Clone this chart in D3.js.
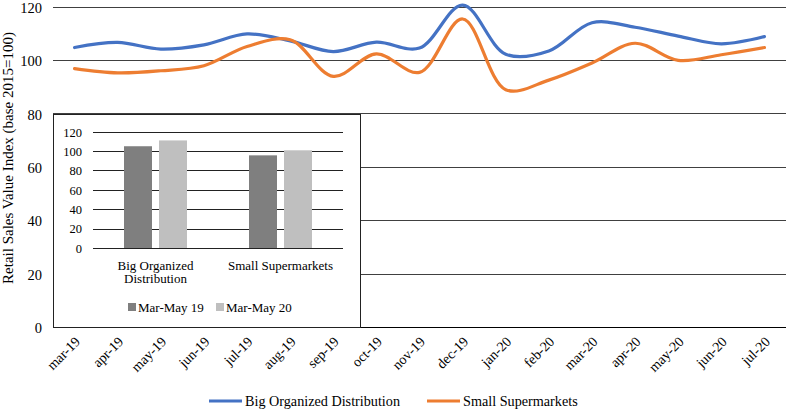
<!DOCTYPE html>
<html><head><meta charset="utf-8">
<script src="https://cdn.jsdelivr.net/npm/d3@7"></script>
<style>body{margin:0;background:#fff}</style>
</head><body><svg id="c" width="788" height="411"></svg>
<script>
const months = ["mar-19","apr-19","may-19","jun-19","jul-19","aug-19","sep-19","oct-19","nov-19","dec-19","jan-20","feb-20","mar-20","apr-20","may-20","jun-20","jul-20"];
const bigOrg = [104.7,106.6,104.1,105.7,109.8,107.2,103.2,106.7,104.5,120.6,102.2,103.4,114.0,112.3,109.0,106.1,108.8];
const smallSup = [96.8,95.2,96.0,97.9,105.1,107.6,93.9,102.3,95.4,115.4,88.9,92.5,98.9,106.3,99.9,102.0,104.7];
const mainTicks = [0,20,40,60,80,100,120];
const seriesNames = ["Big Organized Distribution","Small Supermarkets"];
const seriesColors = ["#4472C4","#ED7D31"];

const insetCats = [["Big Organized","Distribution"],["Small Supermarkets"]];
const insetPeriods = ["Mar-May 19","Mar-May 20"];
const insetMarMay19 = [105,95.6];
const insetMarMay20 = [111,100.8];
const insetTicks = [0,20,40,60,80,100,120];
const insetColors = ["#7f7f7f","#bfbfbf"];

const FONT = "Liberation Serif";
const svg = d3.select("#c");
const L=53, R=786, T=6.7, B=327;
const x = d3.scaleBand().domain(months).range([L,R]);
const y = d3.scaleLinear().domain([0,120]).range([B,T]);

svg.append("g").selectAll("line").data(mainTicks.filter(d=>d>0)).join("line")
  .attr("x1",L).attr("x2",R).attr("y1",d=>Math.round(y(d))+0.5).attr("y2",d=>Math.round(y(d))+0.5)
  .attr("stroke","#404040").attr("stroke-width",1);
svg.append("line").attr("x1",L).attr("x2",R).attr("y1",Math.round(B)+0.5).attr("y2",Math.round(B)+0.5).attr("stroke","#000");

svg.append("g").selectAll("text").data(mainTicks).join("text")
  .attr("font-family",FONT)
  .attr("x",42).attr("y",d=>y(d)+1).attr("dy","0.35em").attr("text-anchor","end")
  .attr("font-size",14.5).text(d=>d);

svg.append("text").attr("font-family",FONT).attr("transform",`translate(13,${158}) rotate(-90)`).attr("text-anchor","middle")
  .attr("font-size",15).text("Retail Sales Value Index (base 2015=100)");

svg.append("g").selectAll("text").data(months).join("text")
  .attr("font-family",FONT)
  .attr("transform",d=>`translate(${x(d)+x.bandwidth()/2+3},${339}) rotate(-45)`)
  .attr("text-anchor","end").attr("dy","0.35em").attr("font-size",14).text(d=>d);

const line = d3.line().x((d,i)=>x(months[i])+x.bandwidth()/2).y(d=>y(d)).curve(d3.curveCatmullRom.alpha(0.5));
[bigOrg,smallSup].forEach((s,k)=>{
  svg.append("path").attr("d",line(s)).attr("fill","none").attr("stroke",seriesColors[k])
    .attr("stroke-width",3.2).attr("stroke-linecap","round");
});

const legX=[209,427];
seriesNames.forEach((n,k)=>{
  svg.append("line").attr("x1",legX[k]).attr("x2",legX[k]+33).attr("y1",401).attr("y2",401)
    .attr("stroke",seriesColors[k]).attr("stroke-width",3.2);
  svg.append("text").attr("font-family",FONT).attr("x",legX[k]+36).attr("y",401).attr("dy","0.35em").attr("font-size",14.2).text(n);
});

const ig = svg.append("g");
ig.append("rect").attr("x",53.5).attr("y",114.5).attr("width",307).attr("height",213).attr("fill","#fff").attr("stroke","#222").attr("stroke-width",1);
const cats = insetCats.map(d=>d.join(" "));
const ix = d3.scaleBand().domain(cats).range([93,343]);
const iy = d3.scaleLinear().domain([0,120]).range([248,131.7]);
ig.append("g").selectAll("line").data(insetTicks).join("line")
  .attr("x1",93).attr("x2",343).attr("y1",d=>Math.round(iy(d))+0.5).attr("y2",d=>Math.round(iy(d))+0.5)
  .attr("stroke","#222");
ig.append("g").selectAll("text").data(insetTicks).join("text")
  .attr("font-family",FONT)
  .attr("x",82).attr("y",d=>iy(d)+0.5).attr("dy","0.35em").attr("text-anchor","end").attr("font-size",12.5).text(d=>d);
const bw=28, gap=7;
[insetMarMay19,insetMarMay20].forEach((vals,k)=>{
  ig.append("g").selectAll("rect").data(vals).join("rect")
    .attr("x",(d,i)=>ix(cats[i])+ix.bandwidth()/2 - bw - gap/2 + k*(bw+gap))
    .attr("width",bw).attr("y",d=>iy(d)).attr("height",d=>iy(0)-iy(d)).attr("fill",insetColors[k]);
});
insetCats.forEach((c,i)=>{
  const t=ig.append("text").attr("font-family",FONT).attr("text-anchor","middle").attr("font-size",13);
  c.forEach((ln,j)=>t.append("tspan").attr("x",ix(cats[i])+ix.bandwidth()/2).attr("y",269.5+j*13.5).text(ln));
});
const ilx=[128,216];
insetPeriods.forEach((p,k)=>{
  ig.append("rect").attr("x",ilx[k]).attr("y",303).attr("width",8).attr("height",8).attr("fill",insetColors[k]);
  ig.append("text").attr("font-family",FONT).attr("x",ilx[k]+10).attr("y",307.5).attr("dy","0.35em").attr("font-size",13).text(p);
});
</script></body></html>
